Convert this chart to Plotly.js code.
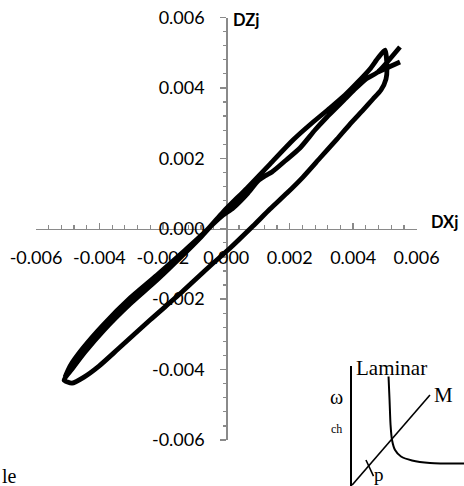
<!DOCTYPE html>
<html>
<head>
<meta charset="utf-8">
<script src="https://cdn.plot.ly/plotly-3.0.1.min.js"></script>
<style>
  html, body { margin: 0; padding: 0; background: #fff; }
  #chart { width: 464px; height: 486px; }
</style>
</head>
<body>
<div id="chart"></div>
<script>
// DXj / DZj trajectory (two passes, null splits off the short end stroke)
const dxj = [
  0.005476, 0.004782, 0.004404, 0.004026, 0.003711, 0.003427, 0.003175, 0.002796,
  0.002323, 0.001851, 0.001441, 0.001220, 0.000999, 0.000684, 0.000211, -0.000104,
  -0.000451, -0.000829, -0.001397, -0.002185, -0.003036, -0.003856, -0.004455, -0.004864,
  -0.005117, -0.004864, -0.004486, -0.004013, -0.003414, -0.002405, -0.001365, -0.000514,
  0.000054, 0.000842, 0.001378, 0.001914, 0.002418, 0.002954, 0.003490, 0.003900,
  0.004310, 0.004625, 0.004877, 0.005035, 0.005066, 0.005003, 0.004782, 0.004530,
  0.004120, 0.003742, 0.003269, 0.002702, 0.002103, 0.001378, 0.000653, -0.000104,
  -0.000608, -0.001365, -0.002185, -0.003036, -0.003887, -0.004518, -0.004928, -0.005085,
  null, 0.004782, 0.005476
];
const dzj = [
  0.005162, 0.004452, 0.004253, 0.003940, 0.003656, 0.003400, 0.003173, 0.002804,
  0.002293, 0.001923, 0.001611, 0.001497, 0.001355, 0.001014, 0.000588, 0.000389,
  0.000105, -0.000264, -0.000776, -0.001457, -0.002139, -0.002878, -0.003503, -0.003986,
  -0.004298, -0.004384, -0.004213, -0.003901, -0.003418, -0.002594, -0.001770, -0.001060,
  -0.000605, 0.000077, 0.000560, 0.001014, 0.001469, 0.002009, 0.002548, 0.002974,
  0.003372, 0.003685, 0.003940, 0.004253, 0.004565, 0.005077, 0.004849, 0.004537,
  0.004139, 0.003798, 0.003429, 0.003003, 0.002520, 0.001838, 0.001156, 0.000474,
  -0.000037, -0.000662, -0.001315, -0.001969, -0.002736, -0.003389, -0.003901, -0.004213,
  null, 0.004452, 0.004736
];

// Axis ticks
const tickVals = [-0.006, -0.004, -0.002, 0, 0.002, 0.004, 0.006];
const tickText = ['-0.006', '-0.004', '-0.002', '0.000', '0.002', '0.004', '0.006'];

// Small schematic in the lower-right corner (unit square)
const insetCurveX = [0.328, 0.337, 0.346, 0.359, 0.386, 0.439, 0.537, 0.697, 1.05];
const insetCurveY = [0.910, 0.714, 0.505, 0.380, 0.296, 0.242, 0.209, 0.188, 0.184];
const insetLineX = [0, 0.697];
const insetLineY = [0, 0.755];
const insetMarkX = [0.127, 0.194];
const insetMarkY = [0.213, 0.079];

const W = 464, H = 486;
const axisGrey = '#8a8a8a';
const tickFont = { family: 'Lato, "Open Sans", sans-serif', size: 18, color: '#000' };
const serif = '"Liberation Serif", "DejaVu Serif", serif';

const traces = [
  {
    x: dxj, y: dzj, xaxis: 'x', yaxis: 'y',
    type: 'scatter', mode: 'lines',
    line: { color: '#000', width: 4.8, shape: 'spline', smoothing: 0.6 },
    connectgaps: false, hoverinfo: 'skip'
  },
  {
    x: insetCurveX, y: insetCurveY, xaxis: 'x2', yaxis: 'y2',
    type: 'scatter', mode: 'lines',
    line: { color: '#000', width: 2, shape: 'spline', smoothing: 0.8 },
    hoverinfo: 'skip'
  },
  {
    x: insetLineX, y: insetLineY, xaxis: 'x2', yaxis: 'y2',
    type: 'scatter', mode: 'lines',
    line: { color: '#000', width: 1.6 }, hoverinfo: 'skip'
  },
  {
    x: insetMarkX, y: insetMarkY, xaxis: 'x2', yaxis: 'y2',
    type: 'scatter', mode: 'lines',
    line: { color: '#000', width: 1.6 }, hoverinfo: 'skip'
  }
];

const mainAxis = {
  range: [-0.006, 0.006],
  anchor: 'free',
  showline: true, linecolor: axisGrey, linewidth: 1.5,
  showgrid: false, zeroline: false,
  tickmode: 'array', tickvals: tickVals, ticktext: tickText,
  ticklen: 6, tickwidth: 1.5, tickcolor: axisGrey,
  tickfont: tickFont,
  minor: { tickmode: 'linear', tick0: -0.006, dtick: 0.0004, ticklen: 3.5, tickwidth: 1.2, tickcolor: axisGrey, showgrid: false },
  layer: 'below traces',
  automargin: false, fixedrange: true
};

const layout = {
  width: W, height: H,
  margin: { l: 0, r: 0, t: 0, b: 0, pad: 0 },
  paper_bgcolor: '#fff', plot_bgcolor: 'rgba(0,0,0,0)',
  showlegend: false,
  xaxis: Object.assign({}, mainAxis, {
    domain: [36 / W, 416.6 / W],
    position: 1 - 228.7 / H,
    side: 'bottom', ticks: 'inside', ticklabelstandoff: 12,
    minor: Object.assign({}, mainAxis.minor, { ticks: 'inside' })
  }),
  yaxis: Object.assign({}, mainAxis, {
    domain: [(H - 440) / H, (H - 17.5) / H],
    position: 226.3 / W,
    side: 'left', ticks: 'outside', ticklabelstandoff: 12,
    minor: Object.assign({}, mainAxis.minor, { ticks: 'outside' })
  }),
  xaxis2: {
    domain: [351.7 / W, 1], anchor: 'y2', range: [0, 1],
    showline: true, linecolor: '#000', linewidth: 1.4,
    showgrid: false, zeroline: false, ticks: '', showticklabels: false, fixedrange: true
  },
  yaxis2: {
    domain: [0.5 / H, (H - 365.7) / H], anchor: 'x2', range: [0, 1],
    showline: true, linecolor: '#000', linewidth: 1.6,
    showgrid: false, zeroline: false, ticks: '', showticklabels: false, fixedrange: true
  },
  annotations: [
    { text: '<b>DZj</b>', xref: 'paper', yref: 'paper', x: 231 / W, y: 1 - 20 / H,
      xanchor: 'left', yanchor: 'middle', showarrow: false,
      font: { family: 'Lato, "Open Sans", sans-serif', size: 16.5, color: '#000' } },
    { text: '<b>DXj</b>', xref: 'paper', yref: 'paper', x: 429 / W, y: 1 - 222 / H,
      xanchor: 'left', yanchor: 'middle', showarrow: false,
      font: { family: 'Lato, "Open Sans", sans-serif', size: 16.5, color: '#000' } },
    { text: 'Laminar', xref: 'paper', yref: 'paper', x: 354 / W, y: 1 - 368 / H,
      xanchor: 'left', yanchor: 'middle', showarrow: false,
      font: { family: serif, size: 21, color: '#000' } },
    { text: 'M', xref: 'paper', yref: 'paper', x: 432 / W, y: 1 - 395 / H,
      xanchor: 'left', yanchor: 'middle', showarrow: false,
      font: { family: serif, size: 21, color: '#000' } },
    { text: 'ω', xref: 'paper', yref: 'paper', x: 336.5 / W, y: 1 - 397 / H,
      xanchor: 'center', yanchor: 'middle', showarrow: false,
      font: { family: serif, size: 20, color: '#000' } },
    { text: 'ch', xref: 'paper', yref: 'paper', x: 336 / W, y: 1 - 429 / H,
      xanchor: 'center', yanchor: 'middle', showarrow: false,
      font: { family: serif, size: 12, color: '#000' } },
    { text: 'p', xref: 'paper', yref: 'paper', x: 379 / W, y: 1 - 474 / H,
      xanchor: 'center', yanchor: 'middle', showarrow: false,
      font: { family: serif, size: 19, color: '#000' } },
    { text: 'le', xref: 'paper', yref: 'paper', x: 0, y: 1 - 476 / H,
      xanchor: 'left', yanchor: 'middle', showarrow: false,
      font: { family: serif, size: 20, color: '#000' } }
  ]
};

Plotly.newPlot('chart', traces, layout, { staticPlot: true, displayModeBar: false });
</script>
</body>
</html>
